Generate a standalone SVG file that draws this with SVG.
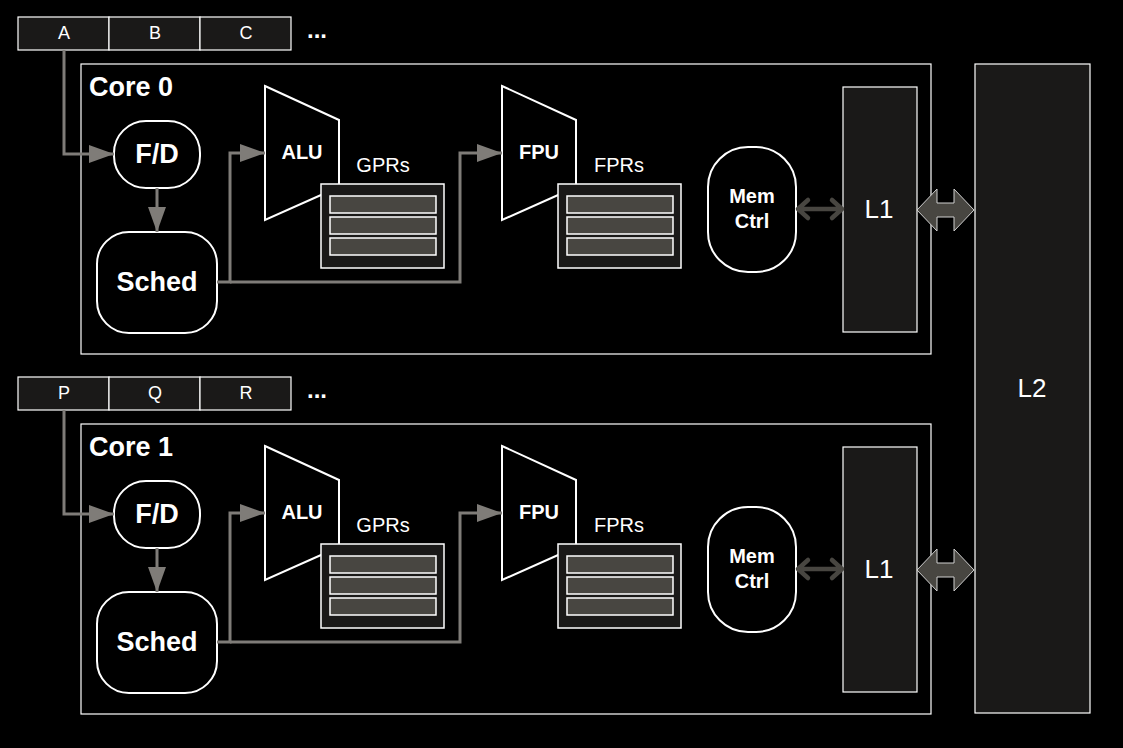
<svg xmlns="http://www.w3.org/2000/svg" width="1123" height="748" viewBox="0 0 1123 748">
<style>
text{font-family:"Liberation Sans",Arial,sans-serif;fill:#fff;text-anchor:middle;dominant-baseline:central}
.cell{fill:#1a1918;stroke:#fff;stroke-width:1.2}
.core{fill:#000;stroke:#fff;stroke-width:1.2}
.node{fill:#000;stroke:#fff;stroke-width:2}
.reg{fill:#1a1918;stroke:#fff;stroke-width:1.5}
.bar{fill:#484641;stroke:#fff;stroke-width:1.5}
.cache{fill:#1a1918;stroke:#fff;stroke-width:1.2}
.wire{fill:none;stroke:#7f7c78;stroke-width:3}
.mem{fill:none;stroke:#484641;stroke-width:4.5;stroke-linecap:round;stroke-linejoin:round}
.blk{fill:#484641;stroke:#d0d0d0;stroke-width:1}
.t18{font-size:18px}
.t20{font-size:20px}
.b20{font-size:20px;font-weight:bold}
.b24{font-size:24px;font-weight:bold}
.b27{font-size:27px;font-weight:bold}
.n26{font-size:26px}
</style>
<defs>
<marker id="ah" markerUnits="userSpaceOnUse" markerWidth="26" markerHeight="18" refX="25" refY="9" orient="auto">
<path d="M0,0 L25,9 L0,18 z" fill="#7f7c78"/>
</marker>
</defs>
<rect x="0" y="0" width="1123" height="748" fill="#000"/>

<g id="l2">
<rect class="cache" x="975" y="64" width="115" height="649"/>
<text class="n26" x="1032" y="388">L2</text>
</g>

<!-- Core 0 -->
<g id="queue0">
<rect class="cell" x="18" y="17" width="91" height="33"/>
<rect class="cell" x="109" y="17" width="91" height="33"/>
<rect class="cell" x="200" y="17" width="91" height="33"/>
<text class="t18" x="64" y="33">A</text>
<text class="t18" x="155" y="33">B</text>
<text class="t18" x="246" y="33">C</text>
<text class="b24" x="317" y="29">...</text>
</g>
<g id="core0">
<rect class="core" x="81" y="64" width="850" height="290"/>
<text class="b27" x="89" y="87" style="text-anchor:start">Core 0</text>
</g>
<g id="fd0">
<rect class="node" x="114" y="121" width="86" height="67" rx="32"/>
<text class="b27" x="157" y="154">F/D</text>
</g>
<g id="sched0">
<rect class="node" x="97" y="232" width="120" height="101" rx="32"/>
<text class="b27" x="157" y="282">Sched</text>
</g>
<g id="alu0">
<polygon class="node" points="265,86 339,120 339,187 265,220"/>
<text class="b20" x="302" y="152">ALU</text>
</g>
<g id="gprs0">
<text class="t20" x="383" y="165">GPRs</text>
<rect class="reg" x="321" y="184" width="123" height="84"/>
<rect class="bar" x="330" y="196" width="106" height="17"/>
<rect class="bar" x="330" y="217" width="106" height="17"/>
<rect class="bar" x="330" y="238" width="106" height="17"/>
</g>
<g id="fpu0">
<polygon class="node" points="502,86 576,120 576,187 502,220"/>
<text class="b20" x="539" y="152">FPU</text>
</g>
<g id="fprs0">
<text class="t20" x="619" y="165">FPRs</text>
<rect class="reg" x="558" y="184" width="123" height="84"/>
<rect class="bar" x="567" y="196" width="106" height="17"/>
<rect class="bar" x="567" y="217" width="106" height="17"/>
<rect class="bar" x="567" y="238" width="106" height="17"/>
</g>
<g id="memctrl0">
<rect class="node" x="708" y="147" width="88" height="125" rx="40"/>
<text class="b20" x="752" y="196">Mem</text>
<text class="b20" x="752" y="221">Ctrl</text>
</g>
<g id="l1_0">
<rect class="cache" x="843" y="87" width="74" height="245"/>
<text class="n26" x="879" y="209">L1</text>
</g>

<!-- Core 1 -->
<g id="queue1">
<rect class="cell" x="18" y="377" width="91" height="33"/>
<rect class="cell" x="109" y="377" width="91" height="33"/>
<rect class="cell" x="200" y="377" width="91" height="33"/>
<text class="t18" x="64" y="393">P</text>
<text class="t18" x="155" y="393">Q</text>
<text class="t18" x="246" y="393">R</text>
<text class="b24" x="317" y="389">...</text>
</g>
<g id="core1">
<rect class="core" x="81" y="424" width="850" height="290"/>
<text class="b27" x="89" y="447" style="text-anchor:start">Core 1</text>
</g>
<g id="fd1">
<rect class="node" x="114" y="481" width="86" height="67" rx="32"/>
<text class="b27" x="157" y="514">F/D</text>
</g>
<g id="sched1">
<rect class="node" x="97" y="592" width="120" height="101" rx="32"/>
<text class="b27" x="157" y="642">Sched</text>
</g>
<g id="alu1">
<polygon class="node" points="265,446 339,480 339,547 265,580"/>
<text class="b20" x="302" y="512">ALU</text>
</g>
<g id="gprs1">
<text class="t20" x="383" y="525">GPRs</text>
<rect class="reg" x="321" y="544" width="123" height="84"/>
<rect class="bar" x="330" y="556" width="106" height="17"/>
<rect class="bar" x="330" y="577" width="106" height="17"/>
<rect class="bar" x="330" y="598" width="106" height="17"/>
</g>
<g id="fpu1">
<polygon class="node" points="502,446 576,480 576,547 502,580"/>
<text class="b20" x="539" y="512">FPU</text>
</g>
<g id="fprs1">
<text class="t20" x="619" y="525">FPRs</text>
<rect class="reg" x="558" y="544" width="123" height="84"/>
<rect class="bar" x="567" y="556" width="106" height="17"/>
<rect class="bar" x="567" y="577" width="106" height="17"/>
<rect class="bar" x="567" y="598" width="106" height="17"/>
</g>
<g id="memctrl1">
<rect class="node" x="708" y="507" width="88" height="125" rx="40"/>
<text class="b20" x="752" y="556">Mem</text>
<text class="b20" x="752" y="581">Ctrl</text>
</g>
<g id="l1_1">
<rect class="cache" x="843" y="447" width="74" height="245"/>
<text class="n26" x="879" y="569">L1</text>
</g>

<g id="connectors">
<path class="wire" d="M64,50 V154 H114" marker-end="url(#ah)"/>
<path class="wire" d="M157,188 V232" marker-end="url(#ah)"/>
<path class="wire" d="M217,282 H230 V153 H265" marker-end="url(#ah)"/>
<path class="wire" d="M230,282 H460 V153 H502" marker-end="url(#ah)"/>
<path class="mem" d="M798,209 H842 M808,200 L798,209 L808,218 M832,200 L842,209 L832,218"/>
<path class="blk" d="M917,210 L937,189 V203 H954 V189 L974,210 L954,231 V217 H937 V231 z"/>

<path class="wire" d="M64,410 V514 H114" marker-end="url(#ah)"/>
<path class="wire" d="M157,548 V592" marker-end="url(#ah)"/>
<path class="wire" d="M217,642 H230 V513 H265" marker-end="url(#ah)"/>
<path class="wire" d="M230,642 H460 V513 H502" marker-end="url(#ah)"/>
<path class="mem" d="M798,569 H842 M808,560 L798,569 L808,578 M832,560 L842,569 L832,578"/>
<path class="blk" d="M917,570 L937,549 V563 H954 V549 L974,570 L954,591 V577 H937 V591 z"/>
</g>
</svg>
